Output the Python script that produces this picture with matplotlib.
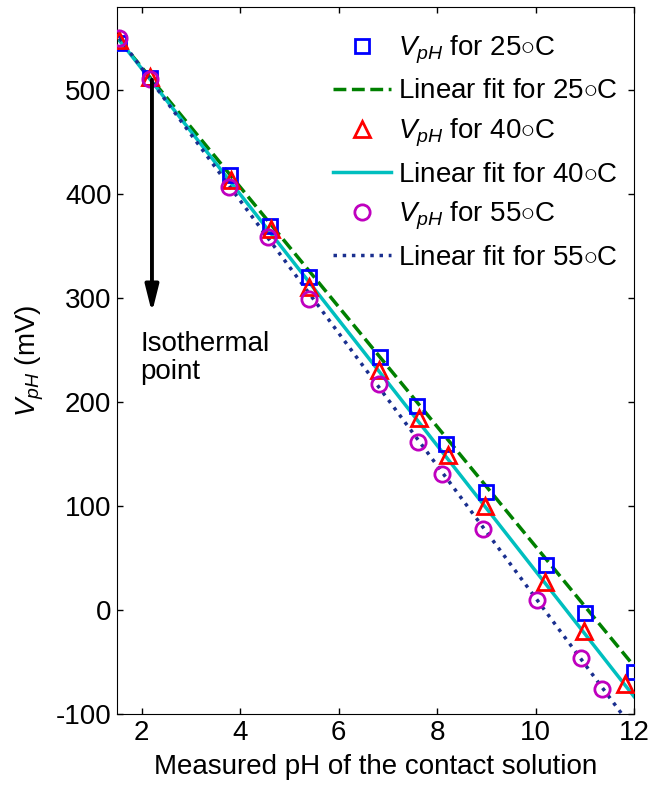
import numpy as np
import matplotlib
matplotlib.use("Agg")
import matplotlib.pyplot as plt

plt.rcParams['font.family'] = ['Liberation Sans', 'DejaVu Sans']
plt.rcParams['mathtext.fontset'] = 'custom'
plt.rcParams['mathtext.rm'] = 'Liberation Sans'
plt.rcParams['mathtext.it'] = 'Liberation Sans:italic'
plt.rcParams['axes.unicode_minus'] = False

# measured points
ph_25 = [1.55, 2.18, 3.80, 4.60, 5.39, 6.84, 7.60, 8.19, 9.00, 10.21, 11.00, 12.00]
v_25 = [545, 512, 418, 369, 320, 243, 196, 160, 114, 43, -3, -60]
ph_40 = [1.55, 2.18, 3.82, 4.62, 5.40, 6.82, 7.63, 8.22, 8.97, 10.19, 10.98, 11.81]
v_40 = [548, 513, 414, 366, 311, 231, 185, 149, 100, 27, -20, -71]
ph_55 = [1.55, 2.18, 3.78, 4.57, 5.40, 6.82, 7.62, 8.10, 8.94, 10.03, 10.92, 11.36]
v_55 = [550, 511, 407, 359, 299, 217, 162, 131, 78, 10, -46, -76]

# linear fits (slope mV/pH, intercept mV)
fit_25 = (-57.6, 637.3)
fit_40 = (-60.4, 641.6)
fit_55 = (-63.7, 648.7)
fit_range = [1.55, 12.0]

fig = plt.figure(figsize=(6.52, 7.86), dpi=100)
ax = fig.add_axes([117/652, 1-714/786, (634-117)/652, (714-7)/786])

fs = 20
xx = np.array(fit_range)
deg = r'$\circ$C'

ax.plot(ph_25, v_25, 's', ms=10, mfc='none', mec='#0000ff', mew=2,
        label='$V_{pH}$ for 25' + deg, zorder=3)
ax.plot(xx, fit_25[0]*xx + fit_25[1], '--', color='#008000', lw=2.5,
        label='Linear fit for 25' + deg)
ax.plot(ph_40, v_40, '^', ms=12, mfc='none', mec='#ff0000', mew=2,
        label='$V_{pH}$ for 40' + deg, zorder=3)
ax.plot(xx, fit_40[0]*xx + fit_40[1], '-', color='#00bfbf', lw=2.5,
        label='Linear fit for 40' + deg)
ax.plot(ph_55, v_55, 'o', ms=11, mfc='none', mec='#bf00bf', mew=2,
        label='$V_{pH}$ for 55' + deg, zorder=3)
ax.plot(xx, fit_55[0]*xx + fit_55[1], ':', color='#1a2f8f', lw=2.5,
        label='Linear fit for 55' + deg)

# isothermal point arrow
ax.annotate('', xy=(2.21, 286), xytext=(2.21, 510),
            arrowprops=dict(arrowstyle='-|>,head_length=1.6,head_width=0.4',
                            color='black', lw=2.8, shrinkA=0, shrinkB=0))
ax.text(1.98, 268, 'Isothermal\npoint', fontsize=fs, va='top', ha='left',
        linespacing=1.1)

ax.set_xlim(1.5, 12)
ax.set_ylim(-100, 580)
ax.set_xticks([2, 4, 6, 8, 10, 12])
ax.set_yticks(np.arange(-100, 501, 100))
ax.tick_params(direction='in', top=True, right=True, labelsize=fs,
               length=4, width=1, pad=4)
ax.set_xlabel('Measured pH of the contact solution', fontsize=fs, labelpad=6)
ax.set_ylabel('$V_{pH}$ (mV)', fontsize=fs, labelpad=7)

ax.legend(loc='upper right', bbox_to_anchor=(1.007, 0.99), frameon=False,
          fontsize=fs, handlelength=2.1, handletextpad=0.25,
          labelspacing=0.45, borderaxespad=0.3)

fig.savefig('out.png', dpi=100)
